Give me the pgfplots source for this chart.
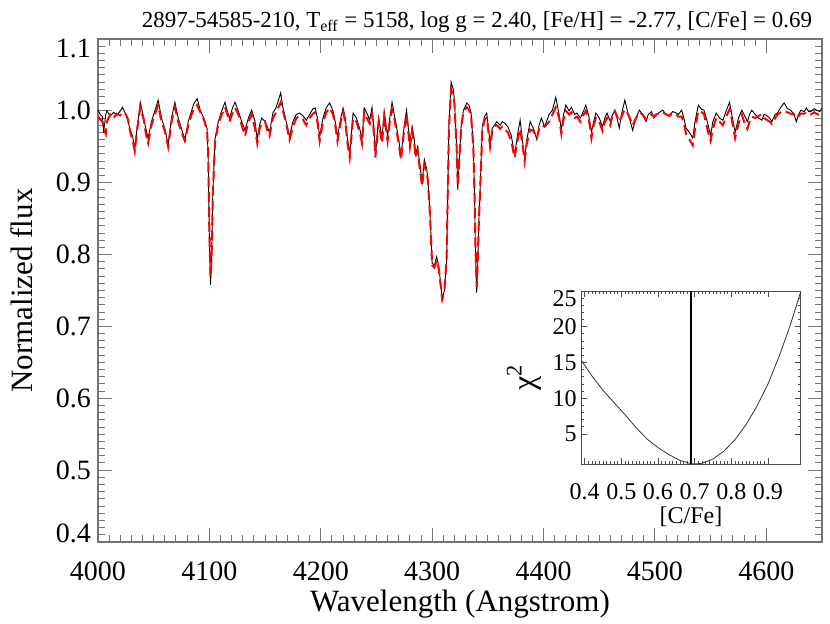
\documentclass[border=0pt]{standalone}
\usepackage{fontspec}
\setmainfont{Liberation Serif}
\usepackage{graphicx}
\usepackage{pgfplots}
\usepackage{pgfplotstable}
\pgfplotsset{compat=1.18}

% wavelength, observed flux, model flux
\pgfplotstableread{
lam obs mod
4000 1.001 0.992
4002 0.995 0.988
4004 0.992 0.985
4005 0.970 0.978
4007 0.995 0.968
4008 1.000 0.985
4011 0.993 0.995
4014 0.998 0.990
4017 0.994 0.996
4020 1.000 0.994
4022 1.005 0.998
4025 0.995 0.995
4027 0.985 0.988
4029 0.973 0.970
4031 0.965 0.960
4033 0.946 0.944
4035 0.975 0.972
4038 1.012 1.005
4041 0.990 0.988
4043 0.975 0.968
4045 0.962 0.955
4048 0.985 0.980
4051 1.000 0.995
4054 1.015 1.008
4057 0.990 0.985
4060 0.975 0.972
4063 0.953 0.950
4066 0.990 0.985
4069 1.012 1.005
4072 0.990 0.985
4075 0.975 0.970
4078 0.960 0.958
4081 0.985 0.980
4084 1.000 0.995
4086 1.010 1.002
4089 1.017 1.008
4092 1.000 0.998
4095 0.990 0.988
4098 0.975 0.972
4099 0.930 0.935
4100 0.820 0.830
4101 0.758 0.770
4102 0.790 0.795
4103 0.880 0.880
4105 0.960 0.955
4108 0.985 0.982
4111 1.000 0.995
4114 1.012 1.005
4116 1.000 0.996
4118 0.990 0.985
4121 1.005 0.998
4123 1.012 1.004
4126 1.000 0.995
4129 0.985 0.980
4132 0.973 0.965
4135 0.990 0.985
4138 1.001 0.995
4141 0.985 0.975
4143 0.960 0.955
4145 0.980 0.975
4147 0.990 0.982
4150 0.985 0.985
4152 0.978 0.972
4154 0.970 0.965
4157 0.997 0.990
4160 1.005 0.998
4162 1.015 1.005
4164 1.025 1.012
4166 1.005 1.000
4169 0.985 0.982
4172 0.964 0.960
4175 0.985 0.978
4178 0.995 0.990
4181 0.997 0.992
4184 0.993 0.988
4187 0.987 0.980
4190 0.995 0.990
4193 1.003 0.996
4195 1.004 0.998
4197 0.990 0.985
4199 0.964 0.958
4202 0.990 0.985
4205 1.005 0.998
4208 1.011 1.004
4211 1.000 0.995
4213 0.985 0.980
4215 0.964 0.958
4218 0.990 0.985
4220 1.004 0.998
4222 0.990 0.985
4224 0.960 0.955
4226 0.941 0.935
4227 0.960 0.955
4229 0.997 0.990
4232 0.990 0.985
4235 0.975 0.970
4237 0.960 0.955
4239 1.004 0.998
4242 0.995 0.988
4244 0.987 0.982
4246 1.005 0.996
4248 0.970 0.965
4249 0.936 0.935
4252 0.990 0.984
4255 0.962 0.955
4257 0.999 0.992
4260 0.964 0.958
4262 0.990 0.985
4264 1.012 1.002
4266 0.995 0.990
4268 0.978 0.972
4270 0.960 0.955
4272 0.936 0.932
4275 0.980 0.975
4277 1.001 0.995
4280 0.955 0.950
4282 0.978 0.972
4284 0.960 0.955
4285 0.939 0.935
4287 0.950 0.945
4289 0.925 0.918
4291 0.900 0.895
4293 0.932 0.925
4295 0.920 0.915
4296 0.908 0.905
4298 0.860 0.858
4300 0.788 0.785
4302 0.785 0.782
4304 0.797 0.792
4306 0.783 0.780
4308 0.755 0.752
4309 0.737 0.738
4311 0.750 0.750
4313 0.793 0.795
4315 0.978 0.972
4317 1.040 1.030
4319 1.030 1.022
4320 1.015 1.010
4322 0.950 0.948
4323 0.890 0.895
4324 0.920 0.922
4326 0.978 0.975
4328 1.000 0.998
4331 1.011 1.005
4333 1.008 1.002
4335 0.997 0.992
4337 0.950 0.948
4338 0.886 0.885
4339 0.800 0.805
4340 0.747 0.755
4341 0.790 0.795
4342 0.850 0.850
4343 0.886 0.885
4345 0.978 0.972
4347 0.992 0.988
4349 0.997 0.990
4351 0.970 0.965
4352 0.955 0.950
4354 0.976 0.972
4356 0.980 0.978
4358 0.985 0.980
4361 0.980 0.975
4363 0.985 0.978
4365 0.983 0.975
4368 0.978 0.970
4371 0.966 0.958
4374 0.939 0.935
4377 0.970 0.962
4379 0.987 0.975
4381 0.960 0.955
4383 0.934 0.930
4385 0.960 0.955
4388 0.985 0.974
4391 0.975 0.972
4394 0.960 0.962
4396 0.980 0.975
4398 0.990 0.980
4401 0.978 0.978
4405 0.995 0.985
4408 1.001 0.995
4411 1.019 1.005
4414 0.995 0.990
4416 0.973 0.968
4418 0.995 0.988
4420 1.008 1.000
4423 1.000 0.995
4425 1.005 0.998
4428 0.995 0.990
4430 0.997 0.992
4433 0.990 0.985
4436 1.000 0.995
4438 1.008 1.000
4441 0.990 0.985
4443 0.970 0.962
4445 0.985 0.980
4447 0.997 0.990
4450 0.990 0.985
4453 0.978 0.972
4455 0.990 0.985
4457 0.997 0.990
4460 0.985 0.980
4462 0.995 0.995
4464 0.999 1.000
4466 0.990 0.992
4468 0.976 0.985
4470 0.995 0.992
4473 1.015 1.002
4476 0.995 0.995
4478 0.985 0.988
4480 0.973 0.980
4483 0.990 0.990
4486 1.001 0.998
4489 0.995 0.995
4492 0.985 0.988
4494 0.995 0.992
4497 0.999 0.995
4499 0.990 0.992
4501 0.994 0.995
4504 0.998 0.996
4507 1.001 0.998
4510 0.995 0.995
4513 0.994 0.993
4516 0.999 0.996
4519 0.997 0.995
4521 0.995 0.992
4524 1.001 0.992
4526 0.990 0.982
4528 0.976 0.968
4531 0.970 0.960
4534 0.962 0.952
4536 0.985 0.975
4539 1.008 1.000
4542 1.002 0.998
4544 1.001 0.996
4547 0.985 0.975
4550 0.966 0.958
4552 0.985 0.975
4555 0.997 0.990
4558 0.990 0.985
4561 0.987 0.980
4564 1.000 0.992
4567 1.012 1.002
4569 0.995 0.988
4572 0.970 0.962
4575 0.990 0.982
4578 1.001 0.995
4580 0.995 0.985
4583 0.985 0.975
4585 0.995 0.985
4587 1.001 0.992
4590 0.995 0.990
4593 0.990 0.993
4596 0.987 0.995
4598 0.995 0.990
4600 0.994 0.988
4603 0.990 0.985
4605 0.985 0.982
4608 0.995 0.990
4610 0.997 0.995
4613 1.005 0.998
4616 1.011 1.000
4619 1.003 0.998
4622 1.001 0.996
4625 0.995 0.995
4627 0.985 0.990
4629 0.995 0.993
4631 1.001 0.996
4634 0.999 0.996
4636 1.004 0.998
4638 0.999 0.996
4640 0.999 0.995
4643 1.003 0.998
4645 1.001 0.996
4648 0.999 0.994
4650 1.004 0.990
}\spectrum

% chi^2 against [C/Fe]
\pgfplotstableread{
cfe chi
0.39 15.35
0.42 13.1
0.45 11.1
0.48 9.4
0.51 7.7
0.54 5.9
0.57 4.3
0.60 3.1
0.63 2.1
0.66 1.3
0.69 0.85
0.70 0.80
0.72 0.90
0.75 1.5
0.78 2.6
0.81 4.2
0.84 6.3
0.87 8.9
0.90 12.0
0.93 15.8
0.96 20.1
0.99 25.0
}\chisq

\begin{document}
\begin{tikzpicture}
\begin{axis}[
    at={(0,0)}, anchor=south west,
    width=362pt, height=251.5pt, scale only axis,
    xmin=4000, xmax=4650, ymin=0.4, ymax=1.1,
    xtick={4000,4100,4200,4300,4400,4500,4600},
    ytick={0.4,0.5,0.6,0.7,0.8,0.9,1.0,1.1},
    yticklabels={,0.5,0.6,0.7,0.8,0.9,1.0,},
    minor x tick num=9, minor y tick num=9,
    tick align=inside,
    major tick length=7pt, minor tick length=3.5pt,
    axis line style={black!55, line width=0.8pt},
    every tick/.style={black!55, line width=0.5pt},
    /pgf/number format/assume math mode=true,
    /pgf/number format/1000 sep={},
    tick label style={font=\fontsize{14}{14}\selectfont},
    xticklabel style={anchor=center, yshift=-14.5pt},
    yticklabel style={anchor=east},
    xlabel={Wavelength (Angstrom)},
    ylabel={Normalized flux},
    label style={font=\fontsize{15.5}{15.5}\selectfont},
    xlabel style={at={(axis description cs:0.5,-0.1233)}, anchor=center},
    ylabel style={at={(axis description cs:-0.105,0.5)}, anchor=center},
    clip mode=individual,
]
\addplot[black, line width=0.45pt] table[x=lam, y=obs] {\spectrum};
\addplot[red, line width=1pt, dash pattern=on 5pt off 2.5pt] table[x=lam, y=mod] {\spectrum};
\node[anchor=east, font=\fontsize{14}{14}\selectfont, yshift=4.5pt]
    at (axis cs:4000,0.4) {0.4};
\node[anchor=east, font=\fontsize{14}{14}\selectfont, yshift=-4.5pt]
    at (axis cs:4000,1.1) {1.1};
\node[anchor=base, inner sep=0pt, yshift=6pt]
    at (rel axis cs:0.5235,1)
    {\resizebox{335pt}{!}{\fontsize{13}{13}\selectfont 2897-54585-210, T\textsubscript{eff} = 5158, log g = 2.40, [Fe/H] = -2.77, [C/Fe] = 0.69}};
\end{axis}

\begin{axis}[
    at={(241.5pt,39pt)}, anchor=south west,
    width=110pt, height=86.5pt, scale only axis,
    axis background/.style={fill=white},
    xmin=0.39, xmax=0.99, ymin=0.8, ymax=25,
    xtick={0.4,0.5,0.6,0.7,0.8,0.9},
    xticklabels={0.4,0.5,0.6,0.7,0.8,0.9},
    ytick={5,10,15,20,25},
    yticklabels={5,10,15,20,},
    minor x tick num=9, minor y tick num=4,
    tick align=inside,
    major tick length=3pt, minor tick length=1.5pt,
    axis line style={black!70, line width=0.5pt},
    every tick/.style={black!70, line width=0.4pt},
    /pgf/number format/assume math mode=true,
    tick label style={font=\fontsize{12}{12}\selectfont, inner sep=1pt},
    xticklabel style={anchor=center, yshift=-14pt},
    yticklabel style={anchor=east, xshift=-1pt},
    xlabel={[C/Fe]},
    ylabel={χ\textsuperscript{2}},
    xlabel style={font=\fontsize{12}{12}\selectfont, at={(axis description cs:0.5,-0.306)}, anchor=center},
    ylabel style={font=\fontsize{16}{16}\selectfont, at={(axis description cs:-0.26,0.5)}, anchor=center},
    clip mode=individual,
]
\addplot[black!80, line width=0.4pt] table[x=cfe, y=chi] {\chisq};
\addplot[black, line width=1pt] coordinates {(0.69,0.8) (0.69,25)};
\node[anchor=east, font=\fontsize{12}{12}\selectfont, inner sep=1pt, xshift=-1pt, yshift=-3.75pt]
    at (axis cs:0.39,25) {25};
\end{axis}
\pgfresetboundingbox
\path[use as bounding box] (-49pt,-40.5pt) rectangle (366pt,271pt);
\end{tikzpicture}
\end{document}
